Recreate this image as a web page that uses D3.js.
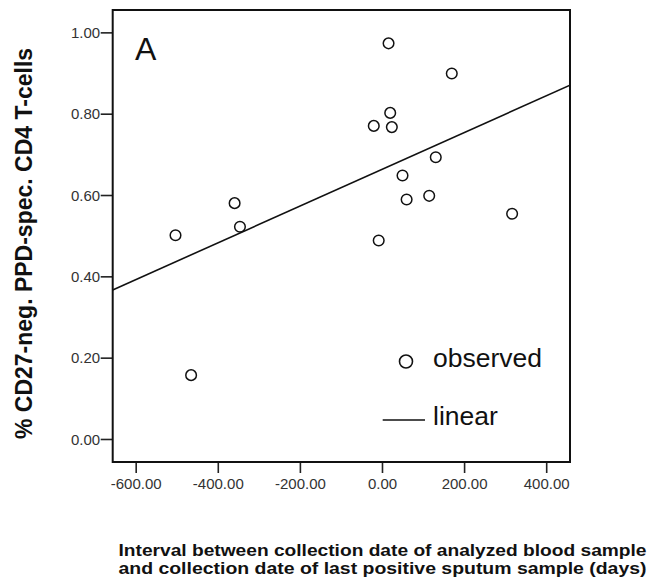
<!DOCTYPE html>
<html>
<head>
<meta charset="utf-8">
<script src="https://cdn.jsdelivr.net/npm/d3@7"></script>
<style>
  html, body { margin: 0; padding: 0; background: #fff; }
  svg { display: block; font-family: Arial, "Liberation Sans", Helvetica, sans-serif; }
</style>
</head>
<body>
<svg id="chart" width="655" height="583"></svg>
<script>
// ---- data ----
const intervalDays = [16, 170, 20, -20, 24, 131, 50, 60, 115, -359, -346, -503, 317, -8, -465];
const pctCD27neg   = [0.973, 0.899, 0.802, 0.770, 0.767, 0.693, 0.648, 0.589, 0.598, 0.580, 0.522, 0.501, 0.554, 0.488, 0.157];
const xTicks = [-600, -400, -200, 0, 200, 400];
const yTicks = [0, 0.2, 0.4, 0.6, 0.8, 1.0];
const fitIntercept = 0.663;
const fitSlope = 0.000452;
const xDomain = [-656, 458];
const yDomain = [-0.0566, 1.055];

const svg = d3.select("#chart");
const L = 112.7, R = 570, T = 10, B = 462;

const x = d3.scaleLinear().domain(xDomain).range([L, R]);
const y = d3.scaleLinear().domain(yDomain).range([B, T]);
const fmt = d => d3.format(".2f")(d).replace("\u2212", "-");

// clip
svg.append("defs").append("clipPath").attr("id", "clip")
  .append("rect").attr("x", L).attr("y", T).attr("width", R - L).attr("height", B - T);

// axes
const xAxis = svg.append("g").attr("transform", `translate(0,${B})`)
  .call(d3.axisBottom(x).tickValues(xTicks).tickFormat(fmt).tickSize(11).tickSizeOuter(0));
const yAxis = svg.append("g").attr("transform", `translate(${L},0)`)
  .call(d3.axisLeft(y).tickValues(yTicks).tickFormat(fmt).tickSize(12).tickSizeOuter(0));
[xAxis, yAxis].forEach(g => {
  g.attr("font-size", null).attr("font-family", null);
  g.select(".domain").remove();
  g.selectAll(".tick line").attr("stroke", "#222").attr("stroke-width", 1.6);
  g.selectAll(".tick text").attr("fill", "#333").style("font-size", "15px");
});
xAxis.selectAll(".tick text").attr("dy", "0").attr("y", 26.5);
yAxis.selectAll(".tick text").attr("x", -12.5).attr("dy", "0.35em");

// frame
svg.append("rect").attr("x", L).attr("y", T).attr("width", R - L).attr("height", B - T)
  .attr("fill", "none").attr("stroke", "#111").attr("stroke-width", 2);

// regression line
svg.append("line").attr("clip-path", "url(#clip)")
  .attr("x1", x(xDomain[0])).attr("y1", y(fitIntercept + fitSlope * xDomain[0]))
  .attr("x2", x(xDomain[1])).attr("y2", y(fitIntercept + fitSlope * xDomain[1]))
  .attr("stroke", "#111").attr("stroke-width", 1.6);

// points
const pts = intervalDays.map((d, i) => ({ x: d, y: pctCD27neg[i] }));
svg.append("g").selectAll("circle").data(pts).join("circle")
  .attr("cx", d => x(d.x)).attr("cy", d => y(d.y)).attr("r", 5.3)
  .attr("fill", "none").attr("stroke", "#111").attr("stroke-width", 1.5);

// panel label
svg.append("text").attr("x", 135).attr("y", 60).text("A")
  .style("font-size", "32px").attr("fill", "#111");

// legend
svg.append("circle").attr("cx", 406).attr("cy", 361.5).attr("r", 6.5)
  .attr("fill", "none").attr("stroke", "#111").attr("stroke-width", 1.6);
svg.append("text").attr("x", 433).attr("y", 367).text("observed")
  .style("font-size", "26.5px").attr("fill", "#111");
svg.append("line").attr("x1", 382.7).attr("x2", 425).attr("y1", 420).attr("y2", 420)
  .attr("stroke", "#111").attr("stroke-width", 1.6);
svg.append("text").attr("x", 433).attr("y", 424.5).text("linear")
  .style("font-size", "26.5px").attr("fill", "#111");

// axis titles
svg.append("text")
  .attr("transform", "translate(32,243.5) rotate(-90)")
  .attr("text-anchor", "middle").style("font-size", "23px").style("font-weight", "bold")
  .attr("fill", "#111")
  .text("% CD27-neg. PPD-spec. CD4 T-cells");

const xTitleLines = ["Interval between collection date of analyzed blood sample",
                     "and collection date of last positive sputum sample (days)"];
svg.selectAll("text.xtitle").data(xTitleLines).join("text")
  .attr("class", "xtitle")
  .attr("x", 118.5).attr("y", (d, i) => 555.5 + i * 18.5)
  .attr("textLength", 528).attr("lengthAdjust", "spacingAndGlyphs")
  .style("font-size", "16px").style("font-weight", "bold").attr("fill", "#111")
  .text(d => d);
</script>
</body>
</html>
